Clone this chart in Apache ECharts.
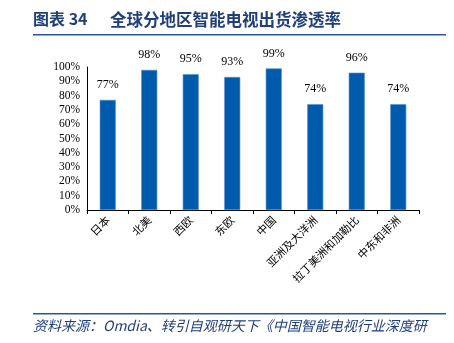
<!DOCTYPE html>
<html><head><meta charset="utf-8">
<script src="https://cdn.jsdelivr.net/npm/echarts@6/dist/echarts.min.js"></script>
<style>html,body{margin:0;padding:0;background:#fff}#c{width:454px;height:343px}</style>
</head><body><div id="c"></div>
<script>
const categories = ['日本','北美','西欧','东欧','中国','亚洲及大洋洲','拉丁美洲和加勒比','中东和非洲'];
const values = [77, 98, 95, 93, 99, 74, 96, 74];
const yTicks = [0,10,20,30,40,50,60,70,80,90,100];
const titleLead = '图表 34';
const titleText = '全球分地区智能电视出货渗透率';
const sourceText = '资料来源：Omdia、转引自观研天下《中国智能电视行业深度研';

const chart = echarts.init(document.getElementById('c'));
chart.setOption({
  animation: false,
  grid: {left: 87, right: 35, top: 67, bottom: 133},
  xAxis: {
    type: 'category', data: categories,
    axisLine: {lineStyle: {color: '#000', width: 1}},
    axisTick: {show: true, length: 4, lineStyle: {color: '#000'}},
    axisLabel: {rotate: 45, fontSize: 11, color: '#000', fontFamily: 'Noto Sans CJK SC', margin: 8}
  },
  yAxis: {
    type: 'value', min: 0, max: 100, interval: 10,
    axisLine: {show: true, lineStyle: {color: '#000'}},
    axisTick: {show: false},
    splitLine: {show: false},
    axisLabel: {formatter: v => v + '%', fontSize: 11.5, color: '#000', fontFamily: 'Liberation Serif', margin: 7}
  },
  series: [{
    type: 'bar', data: values, barWidth: 16,
    itemStyle: {color: '#005BAC', borderColor: '#4F8FD0', borderWidth: 0.6},
    label: {show: true, position: 'top', distance: 9, formatter: p => p.value + '%', fontSize: 12, color: '#000', fontFamily: 'Liberation Serif'}
  }],
  graphic: [
    {type: 'text', left: 33, top: 11, style: {text: titleLead, fontSize: 16, fontWeight: 'bold', fill: '#1F3F7A', fontFamily: 'Noto Sans CJK SC'}},
    {type: 'text', left: 110, top: 11, style: {text: titleText, fontSize: 16.5, fontWeight: 'bold', fill: '#1F3F7A', fontFamily: 'Noto Sans CJK SC'}},
    {type: 'rect', shape: {x: 33, y: 34, width: 413, height: 1.5}, style: {fill: '#2E5597'}},
    {type: 'rect', shape: {x: 33, y: 313, width: 413, height: 1.5}, style: {fill: '#2E5597'}},
    {type: 'text', left: 33, top: 319, style: {text: sourceText, fontSize: 14, fontStyle: 'italic', fill: '#1F3F7A', fontFamily: 'Noto Sans CJK SC'}}
  ]
});
</script></body></html>
